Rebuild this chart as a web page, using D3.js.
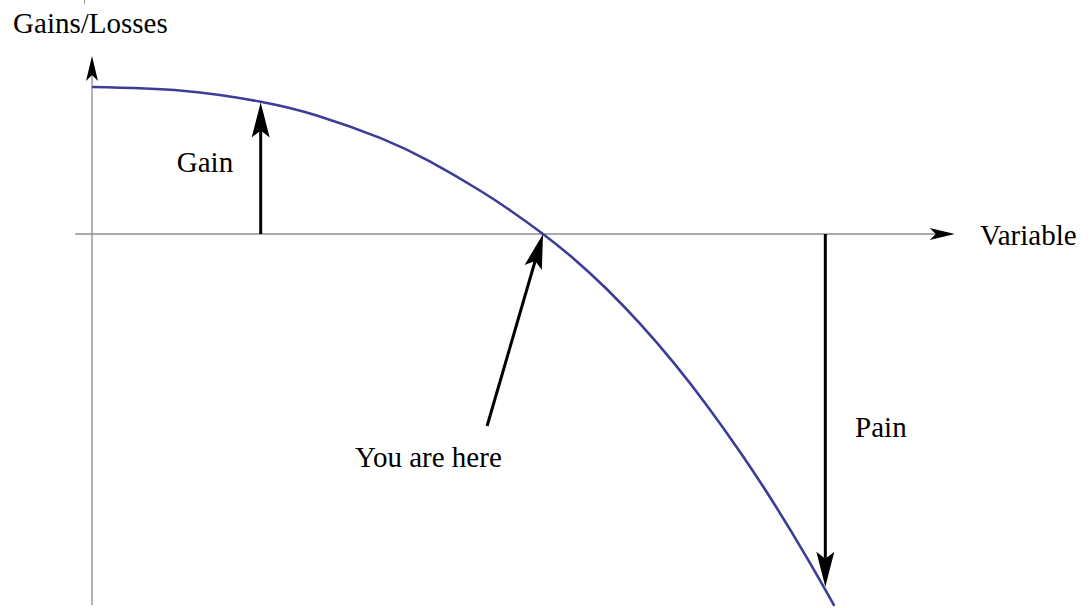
<!DOCTYPE html>
<html>
<head>
<meta charset="utf-8">
<script src="https://cdn.jsdelivr.net/npm/d3@7"></script>
<style>
  body { margin: 0; background: #fff; }
  svg text { font-family: "Liberation Serif", "Times New Roman", serif; font-size: 29px; fill: #000; }
</style>
<title>Gains/Losses</title>
</head>
<body>
<div id="chart"></div>
<script>
// curve (x: variable, y: gain/loss)
var curveX = [0, 0.2, 0.374, 0.5, 0.64, 0.75, 0.86, 0.93, 1.0, 1.07, 1.14, 1.215, 1.29, 1.365, 1.44, 1.51, 1.585, 1.646];
var curveY = [1.0, 0.975, 0.9, 0.805, 0.652, 0.492, 0.296, 0.155, 0, -0.173, -0.371, -0.61, -0.877, -1.173, -1.496, -1.823, -2.201, -2.529];

// annotation arrows: from (x0,y0) to tip (x1,y1)
var arrowNames = ["Gain", "You are here", "Pain"];
var arrowFrom = [[0.374, 0], [0.876, -1.306], [1.626, 0]];
var arrowTo = [[0.374, 0.895], [1.0, 0], [1.626, -2.40]];

// labels
var labelText = ["Gains/Losses", "Variable", "Gain", "You are here", "Pain"];
var labelAt = [[-0.175, 1.367], [1.969, -0.075], [0.188, 0.422], [0.583, -1.585], [1.692, -1.381]];

var axisX = [-0.037, 1.913];
var axisY = [-2.525, 1.211];

var width = 1090, height = 608;

var x = d3.scaleLinear().domain([0, 1]).range([92, 543]);
var y = d3.scaleLinear().domain([0, 1]).range([234, 87]);

var svg = d3.select("#chart").append("svg")
    .attr("width", width)
    .attr("height", height);

// arrow head with a notched back, tip at (tx,ty), pointing along angle a
function head(tx, ty, a, len, hw, notch) {
    var c = Math.cos(a), s = Math.sin(a);
    function p(u, v) { return [tx - u * c - v * s, ty - u * s + v * c]; }
    var pts = [p(0, 0), p(len, hw), p(len - notch, 0), p(len, -hw)];
    return "M" + pts.map(function (d) { return d.join(","); }).join("L") + "Z";
}

// tiny mark at the top
svg.append("line")
    .attr("x1", 84.5).attr("x2", 84.5).attr("y1", 0).attr("y2", 4)
    .attr("stroke", "#999").attr("stroke-width", 1);

// axes
svg.append("line")
    .attr("x1", x(axisX[0])).attr("x2", x(axisX[1]) - 10)
    .attr("y1", y(0)).attr("y2", y(0))
    .attr("stroke", "#8c8c8c").attr("stroke-width", 1.3);
svg.append("path")
    .attr("d", head(x(axisX[1]), y(0), 0, 25, 6, 6))
    .attr("fill", "#000");

svg.append("line")
    .attr("x1", x(0)).attr("x2", x(0))
    .attr("y1", y(axisY[0])).attr("y2", y(axisY[1]) + 10)
    .attr("stroke", "#8c8c8c").attr("stroke-width", 1.3);
svg.append("path")
    .attr("d", head(x(0), y(axisY[1]), -Math.PI / 2, 25, 6, 6))
    .attr("fill", "#000");

// curve
var pts = curveX.map(function (d, i) { return [d, curveY[i]]; });
var line = d3.line()
    .x(function (d) { return x(d[0]); })
    .y(function (d) { return y(d[1]); })
    .curve(d3.curveNatural);

svg.append("path")
    .datum(pts)
    .attr("d", line)
    .attr("fill", "none")
    .attr("stroke", "#3d3d99")
    .attr("stroke-width", 2.6);

// annotation arrows
arrowNames.forEach(function (name, i) {
    var x0 = x(arrowFrom[i][0]), y0 = y(arrowFrom[i][1]);
    var x1 = x(arrowTo[i][0]), y1 = y(arrowTo[i][1]);
    var a = Math.atan2(y1 - y0, x1 - x0);
    var L = Math.hypot(x1 - x0, y1 - y0);
    var stop = L - 25;
    svg.append("line")
        .attr("x1", x0).attr("y1", y0)
        .attr("x2", x0 + Math.cos(a) * stop).attr("y2", y0 + Math.sin(a) * stop)
        .attr("stroke", "#000").attr("stroke-width", 3);
    svg.append("path")
        .attr("d", head(x1, y1, a, 35, 9, 7))
        .attr("fill", "#000");
});

// labels
labelText.forEach(function (t, i) {
    svg.append("text")
        .attr("x", x(labelAt[i][0]))
        .attr("y", y(labelAt[i][1]))
        .text(t);
});
</script>
</body>
</html>
